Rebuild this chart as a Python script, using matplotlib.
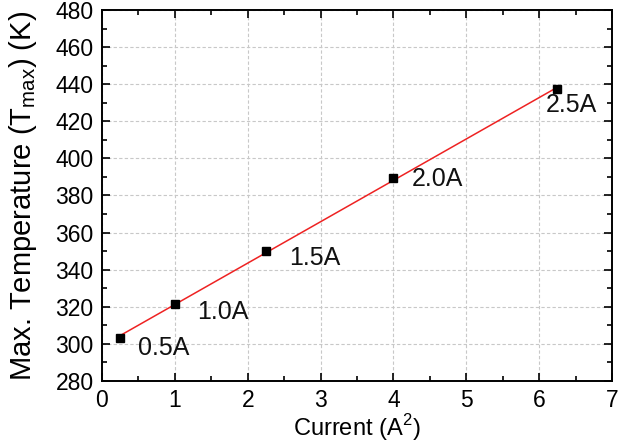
import numpy as np
import matplotlib
matplotlib.use("Agg")
import matplotlib.pyplot as plt
from matplotlib.ticker import MultipleLocator

plt.rcParams['font.family'] = ['Liberation Sans', 'DejaVu Sans']
plt.rcParams['mathtext.fontset'] = 'custom'
plt.rcParams['mathtext.rm'] = 'Liberation Sans'

current_sq = [0.25, 1.0, 2.25, 4.0, 6.25]
t_max = [303.2, 321.5, 350.0, 389.5, 437.2]
labels = ["0.5A", "1.0A", "1.5A", "2.0A", "2.5A"]
label_offsets = [(13, -7), (16, -6), (17, -5), (13, -1), (-8, -11)]

fig = plt.figure(figsize=(6.2, 4.42), dpi=100)
ax = fig.add_axes([102/620, 61/442, 510/620, 371/442])

slope, intercept = np.polyfit(current_sq, t_max, 1)
xf = np.array([current_sq[0], current_sq[-1]])
ax.plot(xf, slope*xf + intercept, color='#ee2222', lw=1.1, zorder=2)
ax.plot(current_sq, t_max, 's', color='black', ms=6, zorder=3)

for x, y, lab, off in zip(current_sq, t_max, labels, label_offsets):
    ax.annotate(lab, (x, y), xytext=off, textcoords='offset points',
                ha='left', va='center', fontsize=18, color='#111111')

ax.set_xlim(0, 7)
ax.set_ylim(280, 480)
ax.xaxis.set_major_locator(MultipleLocator(1))
ax.xaxis.set_minor_locator(MultipleLocator(0.5))
ax.yaxis.set_major_locator(MultipleLocator(20))
ax.yaxis.set_minor_locator(MultipleLocator(10))
ax.tick_params(which='both', direction='in', top=True, right=True, labelsize=16.5, width=1.2)
ax.tick_params(which='major', length=6, pad=6)
ax.tick_params(which='minor', length=3.5)
ax.grid(True, which='major', color='#c8c8c8', linestyle=(0, (3, 2)), lw=0.8)
ax.set_axisbelow(True)
for s in ax.spines.values():
    s.set_linewidth(1.4)

ax.set_xlabel(r"Current (A$^2$)", fontsize=17)
ax.xaxis.set_label_coords(0.5, (381 - 412) / 371)
ax.set_ylabel(r"Max. Temperature (T$_{\rm max}$) (K)", fontsize=21)
ax.yaxis.set_label_coords((39 - 102) / 510, 0.5)

fig.savefig("out.png", dpi=100)
